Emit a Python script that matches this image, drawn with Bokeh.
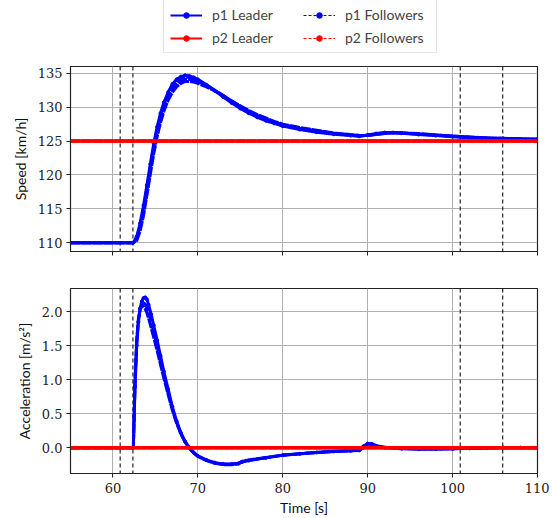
from bokeh.plotting import figure
from bokeh.models import Legend, LegendItem, Span, Range1d, PrintfTickFormatter
from bokeh.layouts import column
from bokeh.embed import file_html
from bokeh.resources import INLINE

# ---------------- data ----------------
speed_t = [55, 62.4, 62.8, 63.2, 63.6, 64.0, 64.4, 64.8, 65.2, 65.6, 66.0, 66.5, 67.0, 67.5, 68.0, 68.5,
           69.0, 69.5, 70, 71, 72, 73, 74, 75, 76, 77, 78, 79, 80, 82, 84, 86, 88, 89, 90, 91, 92, 93, 94,
           96, 98, 100, 102, 104, 106, 108, 110]
p1_leader_speed = [110, 110, 110.9, 112.9, 115.5, 118.5, 121.6, 124.6, 127.1, 129.1, 130.7, 132.2, 133.4,
                   134.1, 134.5, 134.7, 134.6, 134.4, 134.1, 133.3, 132.4, 131.5, 130.6, 129.8, 129.1,
                   128.5, 128.0, 127.6, 127.2, 126.7, 126.3, 126.0, 125.8, 125.7, 125.9, 126.1, 126.25,
                   126.25, 126.15, 125.95, 125.8, 125.65, 125.5, 125.4, 125.35, 125.3, 125.25]
p1_follower1_speed = [110, 110, 110.7, 112.5, 115.0, 118.0, 121.1, 124.1, 126.6, 128.7, 130.3, 131.8, 133.0,
                      133.8, 134.2, 134.4, 134.4, 134.2, 134.0, 133.3, 132.5, 131.6, 130.8, 130.0, 129.3,
                      128.7, 128.2, 127.7, 127.3, 126.8, 126.4, 126.1, 125.85, 125.75, 125.85, 126.05, 126.2,
                      126.25, 126.2, 126.0, 125.85, 125.7, 125.55, 125.45, 125.35, 125.3, 125.25]
p1_follower2_speed = [110, 110, 110.5, 112.1, 114.5, 117.5, 120.6, 123.6, 126.1, 128.2, 129.9, 131.4, 132.6,
                      133.4, 133.9, 134.1, 134.1, 134.0, 133.8, 133.2, 132.5, 131.7, 130.9, 130.1, 129.4,
                      128.8, 128.3, 127.8, 127.4, 126.9, 126.5, 126.15, 125.9, 125.8, 125.8, 126.0, 126.15,
                      126.25, 126.2, 126.05, 125.9, 125.7, 125.55, 125.45, 125.4, 125.3, 125.25]
p1_follower3_speed = [110, 110, 110.3, 111.7, 114.0, 117.0, 120.1, 123.1, 125.6, 127.7, 129.4, 131.0, 132.2,
                      133.0, 133.5, 133.8, 133.8, 133.7, 133.5, 133.0, 132.4, 131.7, 130.9, 130.2, 129.5,
                      128.9, 128.4, 127.9, 127.5, 127.0, 126.6, 126.2, 125.95, 125.85, 125.8, 125.95, 126.1,
                      126.2, 126.2, 126.1, 125.9, 125.75, 125.6, 125.45, 125.4, 125.3, 125.25]

acc_t = [55, 62.4, 62.6, 62.8, 63.0, 63.2, 63.4, 63.6, 63.8, 64.0, 64.2, 64.5, 64.8, 65.2, 65.6, 66.0, 66.5,
         67.0, 67.5, 68.0, 68.5, 69.0, 69.5, 70, 71, 72, 73, 74, 74.8, 75.2, 76, 78, 80, 82, 84, 86, 88, 89,
         89.5, 90, 90.5, 91, 92, 94, 96, 98, 100, 102, 104, 106, 108, 110]
p1_leader_acc = [0, 0, 0.9, 1.5, 1.85, 2.05, 2.15, 2.2, 2.21, 2.18, 2.1, 1.96, 1.8, 1.58, 1.35, 1.12, 0.86,
                 0.6, 0.39, 0.22, 0.09, 0.0, -0.07, -0.12, -0.18, -0.22, -0.24, -0.24, -0.23, -0.21, -0.19,
                 -0.15, -0.11, -0.09, -0.07, -0.055, -0.045, -0.04, 0.02, 0.06, 0.05, 0.02, 0.0, -0.015,
                 -0.02, -0.02, -0.015, -0.01, -0.005, 0.0, 0.0, 0.0]
p1_follower1_acc = [0, 0, 1.0, 1.6, 1.9, 2.03, 2.08, 2.08, 2.04, 1.98, 1.9, 1.76, 1.62, 1.43, 1.22, 1.02,
                    0.78, 0.55, 0.36, 0.2, 0.08, -0.01, -0.08, -0.13, -0.19, -0.23, -0.25, -0.25, -0.24,
                    -0.2, -0.18, -0.145, -0.11, -0.09, -0.07, -0.055, -0.045, -0.04, 0.0, 0.05, 0.06, 0.03,
                    0.005, -0.01, -0.02, -0.02, -0.015, -0.01, -0.005, 0.0, 0.0, 0.0]
p1_follower2_acc = [0, 0, 0.95, 1.55, 1.88, 2.04, 2.11, 2.13, 2.11, 2.06, 1.99, 1.85, 1.7, 1.5, 1.28, 1.07,
                    0.82, 0.57, 0.37, 0.21, 0.085, -0.005, -0.075, -0.125, -0.185, -0.225, -0.245, -0.245,
                    -0.235, -0.205, -0.185, -0.148, -0.11, -0.09, -0.07, -0.055, -0.045, -0.04, 0.01, 0.055,
                    0.055, 0.025, 0.003, -0.012, -0.02, -0.02, -0.015, -0.01, -0.005, 0.0, 0.0, 0.0]

p2_t = [55, 110]
p2_leader_speed = [125, 125]
p2_follower_speed = [125, 125]
p2_leader_acc = [0, 0]
p2_follower_acc = [0, 0]

event_times = [60.85, 62.35, 100.9, 105.9]
x_ticks = [60, 70, 80, 90, 100, 110]
speed_ticks = [110, 115, 120, 125, 130, 135]
acc_ticks = [0.0, 0.5, 1.0, 1.5, 2.0]

BLUE = "#0000ff"
RED = "#ff0000"
TICK_FONT = "DejaVu Serif"
LABEL_FONT = "Lato"


def style(p, yticks):
    p.background_fill_color = "white"
    p.border_fill_color = "white"
    p.outline_line_color = "#222222"
    p.outline_line_width = 1.2
    p.grid.grid_line_color = "#b0b0b0"
    p.grid.grid_line_width = 1
    p.xaxis.ticker = x_ticks
    p.yaxis.ticker = yticks
    for ax in (p.xaxis, p.yaxis):
        ax.axis_line_color = "#222222"
        ax.major_tick_out = 4
        ax.major_tick_in = 0
        ax.minor_tick_line_color = None
        ax.major_tick_line_color = "#222222"
        ax.major_label_text_font = TICK_FONT
        ax.major_label_text_font_size = "13px"
        ax.major_label_text_color = "#222222"
        ax.major_label_standoff = 4
        ax.axis_label_text_font = LABEL_FONT
        ax.axis_label_text_font_size = "14px"
        ax.axis_label_text_font_style = "normal"
        ax.axis_label_text_color = "#111111"
        ax.axis_label_standoff = 6
    for t in event_times:
        p.add_layout(Span(location=t, dimension="height", line_color="#222222",
                          line_width=1.2, line_dash="4 3", level="underlay"))


# ---------------- legend strip ----------------
pl = figure(frame_width=467, frame_height=58, x_range=Range1d(0, 1), y_range=Range1d(0, 1),
            output_backend="svg", toolbar_location=None,
            min_border_left=70, min_border_right=12, min_border_top=0, min_border_bottom=0)
pl.axis.visible = False
pl.grid.visible = False
pl.outline_line_color = None
pl.background_fill_color = "white"
pl.border_fill_color = "white"

# legend-key renderers: drawn from the p2 arrays, which lie outside this strip's 0..1 ranges
leg_l1 = pl.line(p2_t, p2_leader_speed, line_color=BLUE, line_width=2)
leg_m1 = pl.scatter(p2_t, p2_leader_speed, color=BLUE, size=3)
leg_f1 = pl.line(p2_t, p2_follower_speed, line_color=BLUE, line_width=1.2, line_dash="3 2")
leg_fm1 = pl.scatter(p2_t, p2_follower_speed, color=BLUE, size=2.5)
leg_l2 = pl.line(p2_t, p2_leader_speed, line_color=RED, line_width=2)
leg_m2 = pl.scatter(p2_t, p2_leader_speed, color=RED, size=3)
leg_f2 = pl.line(p2_t, p2_follower_speed, line_color=RED, line_width=1.2, line_dash="3 2")
leg_fm2 = pl.scatter(p2_t, p2_follower_speed, color=RED, size=2.5)

legend = Legend(items=[
    LegendItem(label="p1 Leader", renderers=[leg_l1, leg_m1]),
    LegendItem(label="p2 Leader", renderers=[leg_l2, leg_m2]),
    LegendItem(label="p1 Followers", renderers=[leg_f1, leg_fm1]),
    LegendItem(label="p2 Followers", renderers=[leg_f2, leg_fm2]),
], ncols=2, location=(93, 5))
legend.label_text_font = LABEL_FONT
legend.label_text_font_size = "14px"
legend.glyph_width = 32
legend.glyph_height = 14
legend.label_height = 14
legend.label_width = 85
legend.spacing = 6
legend.padding = 6
legend.label_standoff = 10
legend.border_line_color = "#cccccc"
legend.border_line_width = 1
legend.background_fill_alpha = 1
pl.add_layout(legend, "center")

# ---------------- speed ----------------
p1 = figure(frame_width=467, frame_height=185, x_range=Range1d(55, 110), y_range=Range1d(108.7, 136.0),
            output_backend="svg", toolbar_location=None,
            min_border_left=70, min_border_right=12, min_border_top=8, min_border_bottom=18)
style(p1, speed_ticks)
p1.xaxis.major_label_text_color = None
p1.xaxis.major_label_standoff = 0
p1.yaxis.axis_label = "Speed [km/h]"

p1.line(speed_t, p1_follower3_speed, line_color=BLUE, line_width=3, line_dash="10 1")
p1.line(speed_t, p1_follower2_speed, line_color=BLUE, line_width=3, line_dash="10 1")
p1.line(speed_t, p1_follower1_speed, line_color=BLUE, line_width=3, line_dash="10 1")
p1.line(speed_t, p1_leader_speed, line_color=BLUE, line_width=3)
p1.scatter(speed_t, p1_leader_speed, color=BLUE, size=3)
p1.line(p2_t, p2_follower_speed, line_color=RED, line_width=3.5, line_dash="10 1")
p1.line(p2_t, p2_leader_speed, line_color=RED, line_width=3.5)

# ---------------- acceleration ----------------
p2 = figure(frame_width=467, frame_height=185, x_range=p1.x_range, y_range=Range1d(-0.38, 2.34),
            output_backend="svg", toolbar_location=None,
            min_border_left=70, min_border_right=12, min_border_top=19, min_border_bottom=10)
style(p2, acc_ticks)
p2.yaxis.formatter = PrintfTickFormatter(format="%.1f")
p2.yaxis.axis_label = "Acceleration [m/s²]"
p2.xaxis.axis_label = "Time [s]"
p2.xaxis.axis_label_standoff = 3
p2.xaxis.major_label_standoff = 5

p2.line(acc_t, p1_follower2_acc, line_color=BLUE, line_width=3, line_dash="10 1")
p2.line(acc_t, p1_follower1_acc, line_color=BLUE, line_width=3, line_dash="10 1")
p2.line(acc_t, p1_leader_acc, line_color=BLUE, line_width=3)
p2.scatter(acc_t, p1_leader_acc, color=BLUE, size=3)
p2.line(p2_t, p2_follower_acc, line_color=RED, line_width=3.5, line_dash="10 1")
p2.line(p2_t, p2_leader_acc, line_color=RED, line_width=3.5)

layout = column(pl, p1, p2, spacing=0)
open("out.html", "w").write(file_html(layout, INLINE))
